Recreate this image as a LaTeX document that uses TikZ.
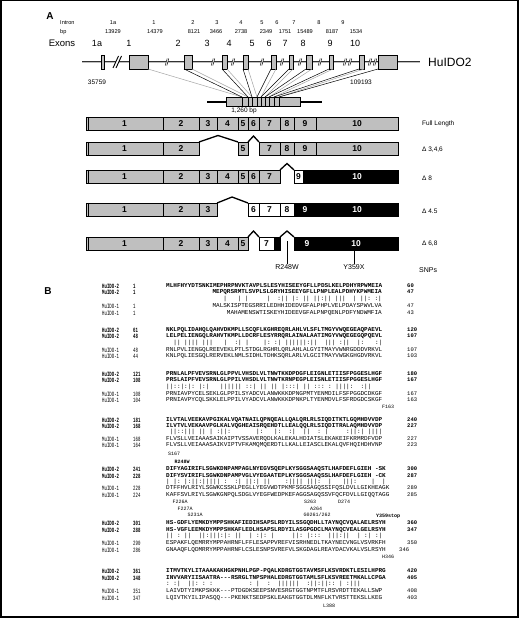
\documentclass[tikz,border=0pt]{standalone}
\usepackage{fontspec}
\setmainfont{Liberation Sans}
\setmonofont{Liberation Mono}
\usepackage{graphicx}
\newcommand\fsz[1]{\fontsize{#1}{#1}\selectfont}
\definecolor{exg}{gray}{0.75}
\tikzset{
 intr/.style={font=\fsz{5.6}, inner sep=0pt},
 exlbl/.style={font=\fsz{9}, inner sep=0pt},
 gexon/.style={draw, line width=0.5pt, fill=exg, minimum height=14pt, inner sep=0pt, outer sep=0pt},
 gline/.style={line width=0.8pt, draw=black!80, double=gray!50, double distance=0.9pt},
 segbox/.style={draw, line width=0.6pt, minimum height=13pt, inner sep=0pt, outer sep=0pt, font=\bfseries\fsz{8.5}},
 seglbl/.style={font=\bfseries\fsz{8.5}, inner sep=0pt, text=white},
 caret/.style={line width=1.3pt, line join=miter},
 rowlbl/.style={font=\fsz{6.5}, anchor=west, inner sep=0pt},
 snp/.style={font=\fsz{7}, inner sep=0pt},
 nmb/.style={font=\ttfamily\bfseries\fsz{6.5}, anchor=west, inner sep=0pt},
 nmr/.style={font=\ttfamily\fsz{6.5}, anchor=west, inner sep=0pt},
 sqb/.style={font=\ttfamily\bfseries\fsz{6}, inner sep=0pt},
 sqr/.style={font=\ttfamily\fsz{6}, inner sep=0pt},
 rnb/.style={font=\ttfamily\bfseries\fsz{5.5}, anchor=west, inner sep=0pt},
 rnr/.style={font=\ttfamily\fsz{5.5}, anchor=west, inner sep=0pt},
 mt/.style={font=\ttfamily\fsz{6}, inner sep=0pt},
 mut/.style={font=\ttfamily\fsz{5}, inner sep=0pt},
 mutb/.style={font=\ttfamily\bfseries\fsz{5}, inner sep=0pt},
 cline/.style={line width=0.5pt},
 cline2/.style={line width=0.5pt, draw=gray!70},
}
% id, y, b/r, name, left number, sequence, right number, anchor, x
\newcommand\arow[9]{%
  \node[nm#3] (#1n) at (102,#2) {\scalebox{0.62}[1]{#4}};
  \node[nm#3] (#1l) at (133,#2) {\scalebox{0.62}[1]{#5}};
  \node[sq#3, anchor=#8] (#1s) at (#9,#2) {#6};
  \node[rn#3] (#1r) at (407,#2) {#7};}
% name, x1, x2, ytop, fill, text colour, label
\newcommand\sg[7]{\node[segbox, fill=#5, text=#6, minimum width={(#3-#2)*1pt}] (#1) at ({(#2+#3)/2},{#4+6.5}) {#7};}
\begin{document}
\begin{tikzpicture}[x=1pt,y=-1pt]
\useasboundingbox (0,0) rectangle (520,620);
\fill[white] (0,0) rectangle (520,620);
\draw[line width=1.4pt] (0.8,0.8) rectangle (518,617);

% ---------------- Panel A ----------------
\node[font=\bfseries\fsz{10}, inner sep=0pt] (lblA) at (50,16.5) {A};
\node[intr, anchor=west] (intronlbl) at (60,23) {Intron};
\node[intr, anchor=west] (bplbl) at (60,32) {bp};
\foreach \n/\b/\xn/\xb in {1a/13929/113/113, 1/14379/154/155, 2/8121/193/194, 3/3466/217/216, 4/2738/241/241, 5/2349/262/266, 6/1751/277/285, 7/15489/294/305, 8/8187/319/332, 9/1534/343/356} {
  \node[intr] (int-\n) at (\xn,23) {\n};
  \node[intr] (bp-\n) at (\xb,32) {\b};
}
\node[font=\fsz{9.5}, inner sep=0pt] (exonslbl) at (62,43) {Exons};
\foreach \t/\x in {1a/97,1/129,2/178,3/207,4/229,5/252,6/269,7/285,8/303,9/330,10/355}
  \node[exlbl] (ex-\t) at (\x,43) {\t};

% genomic line
\coordinate (gs) at (82,62);
\coordinate (ge) at (420,62);
\draw[gline] (gs) -- (ge);
\foreach \x in {167,213,233,262,282,300,320,345,350,370,375} {
  \fill[white] (\x-1.8,65.5) -- (\x+0.2,58.5) -- (\x+1.8,58.5) -- (\x-0.2,65.5) -- cycle;
  \draw[line width=0.45pt] (\x-1.8,65.5) -- (\x+0.2,58.5) (\x-0.2,65.5) -- (\x+1.8,58.5);
}
\fill[white] (113,68) -- (118.5,56) -- (121.5,56) -- (116,68) -- cycle;
\draw[line width=0.9pt] (113,68) -- (118.5,56) (116,68) -- (121.5,56);

% cDNA
\coordinate (cs) at (207,102);
\coordinate (ce) at (322,102);
\draw[line width=1.1pt] (cs) -- (ce);
\foreach \i/\x in {0/226,1/242,2/248,3/252,4/257,5/261,6/265,7/269,8/274,9/279,10/300}
  \coordinate (ct\i) at (\x,97);

% genomic exon boxes
\foreach \nm/\xa/\xb in {1a/101/104,1/129/148,2/184/192,3/222/227,4/243/248,5/271/276,6/289/293,7/306/312,8/329/333,9/359/364,10/378/397}
  \node[gexon, minimum width={(\xb-\xa)*1pt}] (gx\nm) at ({(\xa+\xb)/2},62) {};

% connectors exon -> cDNA
\draw[cline2] (gx1.south east) -- (ct1);
\foreach \k/\km in {2/1,3/2,4/3,5/4,6/5,7/6,8/7,9/8} {
  \draw[cline] (gx\k.south west) -- (ct\km);
  \draw[cline2] (gx\k.south east) -- (ct\k);
}
\draw[cline] (gx10.south west) -- (ct9);

\node[gexon, minimum width=74pt, minimum height=9pt] (cd) at (263,101.5) {};
\foreach \x in {242,248,252,257,261,265,269,274,279}
  \draw[line width=0.5pt] (\x,97) -- (\x,106);

\node[font=\fsz{12}, anchor=west, inner sep=0pt] (hulabel) at (428,62) {HuIDO2};
\node[font=\fsz{6.5}, inner sep=0pt] (pos1) at (97,82) {35759};
\node[font=\fsz{6.5}, inner sep=0pt] (pos2) at (361,82) {109193};
\node[font=\fsz{6.5}, inner sep=0pt] (cdlen) at (244,110.5) {1,260 bp};

% transcripts
% Row 1: full length
\sg{r1-1}{86}{163}{117}{exg}{black}{1}
\sg{r1-2}{163}{199}{117}{exg}{black}{2}
\sg{r1-3}{199}{217}{117}{exg}{black}{3}
\sg{r1-4}{217}{238}{117}{exg}{black}{4}
\sg{r1-5}{238}{248}{117}{exg}{black}{5}
\sg{r1-6}{248}{259}{117}{exg}{black}{6}
\sg{r1-7}{259}{280}{117}{exg}{black}{7}
\sg{r1-8}{280}{294}{117}{exg}{black}{8}
\sg{r1-9}{294}{316}{117}{exg}{black}{9}
\sg{r1-10}{316}{398}{117}{exg}{black}{10}
% Row 2: delta 3,4,6
\sg{r2-1}{86}{163}{142}{exg}{black}{1}
\sg{r2-2}{163}{199}{142}{exg}{black}{2}
\sg{r2-5}{238}{248}{142}{exg}{black}{5}
\sg{r2-7}{259}{280}{142}{exg}{black}{7}
\sg{r2-8}{280}{294}{142}{exg}{black}{8}
\sg{r2-9}{294}{316}{142}{exg}{black}{9}
\sg{r2-10}{316}{398}{142}{exg}{black}{10}
\draw[caret] (r2-2.north east) -- (218,135.5) -- (r2-5.north west);
\draw[caret] (r2-5.north east) -- (253.5,136) -- (r2-7.north west);
% Row 3: delta 8
\sg{r3-1}{86}{163}{170}{exg}{black}{1}
\sg{r3-2}{163}{199}{170}{exg}{black}{2}
\sg{r3-3}{199}{217}{170}{exg}{black}{3}
\sg{r3-4}{217}{238}{170}{exg}{black}{4}
\sg{r3-5}{238}{248}{170}{exg}{black}{5}
\sg{r3-6}{248}{259}{170}{exg}{black}{6}
\sg{r3-7}{259}{280}{170}{exg}{black}{7}
\sg{r3-9}{294}{303}{170}{white}{black}{9}
\sg{r3-10}{303}{398}{170}{black}{white}{}
\node[seglbl] (r3-10l) at (357,176.5) {10};
\draw[caret] (r3-7.north east) -- (287,163.5) -- (r3-9.north west);
% Row 4: delta 4,5
\sg{r4-1}{86}{163}{203}{exg}{black}{1}
\sg{r4-2}{163}{199}{203}{exg}{black}{2}
\sg{r4-3}{199}{217}{203}{exg}{black}{3}
\sg{r4-6}{248}{259}{203}{white}{black}{6}
\sg{r4-7}{259}{280}{203}{white}{black}{7}
\sg{r4-8}{280}{294}{203}{white}{black}{8}
\sg{r4-9}{294}{398}{203}{black}{white}{}
\node[seglbl] (r4-9l) at (305,209.5) {9};
\node[seglbl] (r4-10l) at (357,209.5) {10};
\draw[caret] (r4-3.north east) -- (232,197) -- (r4-6.north west);
% Row 5: delta 6,8
\sg{r5-1}{86}{163}{237}{exg}{black}{1}
\sg{r5-2}{163}{199}{237}{exg}{black}{2}
\sg{r5-3}{199}{217}{237}{exg}{black}{3}
\sg{r5-4}{217}{238}{237}{exg}{black}{4}
\sg{r5-5}{238}{248}{237}{exg}{black}{5}
\sg{r5-7}{259}{274}{237}{white}{black}{7}
\sg{r5-7b}{274}{280}{237}{black}{white}{}
\sg{r5-9}{294}{398}{237}{black}{white}{}
\node[seglbl] (r5-9l) at (307,243.5) {9};
\node[seglbl] (r5-10l) at (356,243.5) {10};
\draw[caret] (r5-5.north east) -- (253.5,231) -- (r5-7.north west);
\draw[caret] (r5-7b.north east) -- (287,231) -- (r5-9.north west);
% left double edges
\foreach \y in {117,142,170,203,237}
  \draw[line width=0.6pt] (88.3,\y) -- (88.3,\y+13);

% SNPs
\node[snp] (snp1) at (287,267) {R248W};
\node[snp] (snp2) at (354,267) {Y359X};
\coordinate (snp1t) at (287,241);
\coordinate (snp2t) at (354,250);
\draw[line width=0.7pt] (snp1t) -- (snp1.north);
\draw[line width=0.7pt] (snp2t) -- (snp2.north);

% row labels
\node[rowlbl] (fl) at (422,124) {Full Length};
\node[rowlbl] (d346) at (422,150) {Δ 3,4,6};
\node[rowlbl] (d8) at (422,178) {Δ 8};
\node[rowlbl] (d45) at (422,211) {Δ 4.5};
\node[rowlbl] (d68) at (422,244) {Δ 6,8};
\node[rowlbl, font=\fsz{7}] (snps) at (419,270) {SNPs};

% ---------------- Panel B ----------------
\node[font=\bfseries\fsz{10}, inner sep=0pt] (lblB) at (48,291) {B};

% block 1
\arow{b1a}{286}{b}{HuIDO-2}{1}{MLHFHYYDTSNKIMEPHRPNVKTAVPLSLESYHISEEYGFLLPDSLKELPDHYRPWMEIA}{60}{west}{166}
\arow{b1b}{292}{b}{MuIDO-2}{1}{MEPQRSRMTLSVPLSLGRYHISEEYGFLLPNPLEALPDHYKPWMEIA}{47}{east}{382}
\node[mt, anchor=east] (b1m) at (382,299) {|~~~|~|~~~~~|~~:||~|:~||~||:||~|||~~|~||:~:|};
\arow{b1c}{306}{r}{MuIDO-1}{1}{MALSKISPTEGSRRILEDHHIDEDVGFALPHPLVELPDAYSPWVLVA}{47}{east}{382}
\arow{b1d}{313}{r}{HuIDO-1}{1}{MAHAMENSWTISKEYHIDEEVGFALPNPQENLPDFYNDWMFIA}{43}{east}{382}

% block 2
\arow{b2a}{330}{b}{HuIDO-2}{61}{NKLPQLIDAHQLQAHVDKMPLLSCQFLKGHREQRLAHLVLSFLTMGYVWQEGEAQPAEVL}{120}{west}{166}
\arow{b2b}{336}{b}{MuIDO-2}{48}{LELPELIENGQLRAHVTKMPLLDCRFLESYRRQRLAINALAATIMGYVWQEGEGQPQEVL}{107}{west}{166}
\node[mt, anchor=west] (b2m) at (166,343) {~~||~||||~|||~~~|~~:|~|~~~~|:~:|~||||||:||~~|||~:||~~|:~~~:|};
\arow{b2c}{350}{r}{MuIDO-1}{48}{RNLPVLIENGQLREEVEKLPTLSTDGLRGHRLQRLAHLALGYITMAYVWNRGDDDVRKVL}{107}{west}{166}
\arow{b2d}{356}{r}{HuIDO-1}{44}{KNLPQLIESGQLRERVEKLNMLSIDHLTDHKSQRLARLVLGCITMAYVWGKGHGDVRKVL}{103}{west}{166}

% block 3
\arow{b3a}{374}{b}{HuIDO-2}{121}{PRNLALPFVEVSRNLGLPPVLVHSDLVLTNWTKKDPDGFLEIGNLETIISFPGGESLHGF}{180}{west}{166}
\arow{b3b}{380}{b}{MuIDO-2}{108}{PRSLAIPFVEVSRNLGLPPILVHSDLVLTNWTKRNPEGPLEISNLETIISFPGGESLHGF}{167}{west}{166}
\node[mt, anchor=west] (b3m) at (166,387) {||::|:|:~|:|~~~||||||~::|~||~||~|:::|~||~:::~:~||||:~~:||};
\arow{b3c}{394}{r}{MuIDO-1}{108}{PRNIAVPYCELSEKLGLPPILSYADCVLANWKKKDPNGPMTYENMDILFSFPGGDCDKGF}{167}{west}{166}
\arow{b3d}{400}{r}{HuIDO-1}{104}{PRNIAVPYCQLSKKLELPPILVYADCVLANWKKKDPNKPLTYENMDVLFSFRDGDCSKGF}{163}{west}{166}
\node[mut] (m-f163) at (388,406.5) {F163};

% block 4
\arow{b4a}{420}{b}{HuIDO-2}{181}{ILVTALVEEKAVPGIKALVQATNAILQPNQEALLQALQRLRLSIQDITKTLGQMHDVVDP}{240}{west}{166}
\arow{b4b}{426}{b}{MuIDO-2}{168}{ILVTVLVEKAAVPGLKALVQGHEAISRQEHDTLLEALQQLRLSIQDITRALAQMHDVVDP}{227}{west}{166}
\node[mt, anchor=west] (b4m) at (166,432) {~||::|||~||~|~:||:~~~~~~~|:~~~|:~~:|~~||~~:~|~~~~~:||:|~||||};
\arow{b4c}{439}{r}{MuIDO-1}{168}{FLVSLLVEIAAASAIKAIPTVSSAVERQDLKALEKALHDIATSLEKAKEIFKRMRDFVDP}{227}{west}{166}
\arow{b4d}{445}{r}{HuIDO-1}{164}{FLVSLLVEIAAASAIKVIPTVFKAMQMQERDTLLKALLEIASCLEKALQVFHQIHDHVNP}{223}{west}{166}
\node[mut] (m-s167) at (174,454) {S167};

% block 5
\node[mutb] (m-r248w) at (182,462) {R248W};
\arow{b5a}{469}{b}{HuIDO-2}{241}{DIFYAGIRIFLSGWKDNPAMPAGLNYEGVSQEPLKYSGGSAAQSTLHAFDEFLGIEH~-SK}{300}{west}{166}
\arow{b5b}{476}{b}{MuIDO-2}{228}{DIFYSVIRIFLSGWKDNPAMPVGLVYEGAATEPLKYSGGSAAQSSLHAFDEFLGIEH~-CK}{287}{west}{166}
\node[mt, anchor=west] (b5m) at (166,482) {|~|:~|:||:|||||~:~~:|~||:|~||~~~~:||||~|||:~~|~~~|||:~~~~|~~|};
\arow{b5c}{488}{r}{MuIDO-1}{228}{DTFFHVLRIYLSGWKCSSKLPEGLLYEGVWDTPKMFSGGSAGQSSIFQSLDVLLGIKHEAGK}{289}{west}{166}
\arow{b5d}{495}{r}{HuIDO-1}{224}{KAFFSVLRIYLSGWKGNPQLSDGLVYEGFWEDPKEFAGGSAGQSSVFQCFDVLLGIQQTAGG}{285}{west}{166}
\node[mut] (m-f226a) at (180,502) {F226A};
\node[mut] (m-f227a) at (185,508.5) {F227A};
\node[mut] (m-s231a) at (195,515) {S231A};
\node[mut] (m-s263) at (310,502) {S263};
\node[mut] (m-d274) at (344,502) {D274};
\node[mut] (m-a264) at (316,508.5) {A264};
\node[mut] (m-g261) at (317,515) {G0261/262};

% block 6
\node[mutb] (m-y359) at (388,516) {Y359stop};
\arow{b6a}{523}{b}{HuIDO-2}{301}{HS-GDFLYEMKDYMPPSHKAFIEDIHSAPSLRDYILSSGQDHLLTAYNQCVQALAELRSYH}{360}{west}{166}
\arow{b6b}{530}{b}{MuIDO-2}{288}{HS-VGFLEEMKDYMPPSHKAFLEDLHSAPSLRDYILASGPGDCLMAYNQCVEALGELRSYH}{347}{west}{166}
\node[mt, anchor=west] (b6m) at (166,536) {||~:~||~~||:|||:|:~||~~|~:|:~|~~~~~||:~|:::~~|||:||~~|~:|~:|};
\arow{b6c}{543}{r}{MuIDO-1}{290}{ESPAKFLQEMRRYMPPAHRNFLFFLESAPPVREFVISRHNEDLTKAYNECVNGLVSVRKFH}{350}{west}{166}
\arow{b6d}{550}{r}{HuIDO-1}{286}{GNAAQFLQDMRRYMPPAHRNFLCSLESNPSVREFVLSKGDAGLREAYDACVKALVSLRSYH}{\hspace*{-8pt}346}{west}{166}
\node[mut] (m-h346) at (388,557) {H346};

% block 7
\arow{b7a}{571}{b}{HuIDO-2}{361}{ITMVTKYLITAAAKAKHGKPNHLPGP-PQALKDRGTGGTAVMSFLKSVRDKTLESILHPRG}{420}{west}{166}
\arow{b7b}{578}{b}{MuIDO-2}{348}{INVVARYIISAATRA---RSRGLTNPSPHALEDRGTGGTAMLSFLKSVREETMKALLCPGA}{405}{west}{166}
\node[mt, anchor=west] (b7m) at (166,584) {:~:|~~||:~:~:~~~~~~~~~~:~|~~:~~||||||~~:||:||::~|~:|||};
\arow{b7c}{591}{r}{MuIDO-1}{351}{LAIVDTYIMKPSKKK---PTDGDKSEEPSNVESRGTGGTNPMTFLRSVRDTTEKALLSWP}{408}{west}{166}
\arow{b7d}{598}{r}{HuIDO-1}{347}{LQIVTKYILIPASQQ---PKENKTSEDPSKLEAKGTGGTDLMNFLKTVRSTTEKSLLKEG}{403}{west}{166}
\node[mut] (m-l388) at (329,606) {L388};
\end{tikzpicture}
\end{document}
